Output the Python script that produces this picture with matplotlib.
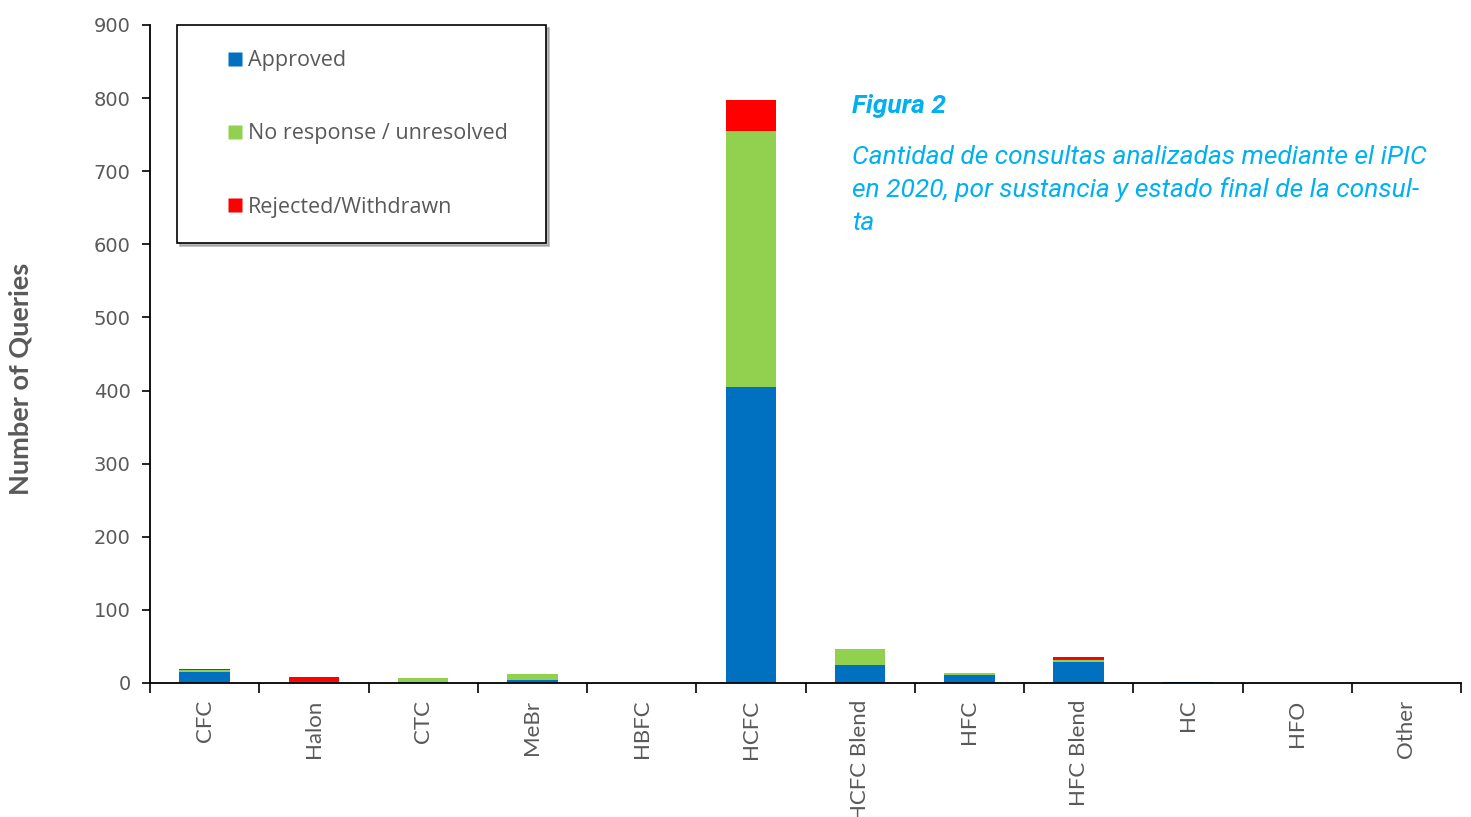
import matplotlib.pyplot as plt
from matplotlib.lines import Line2D
import numpy as np

# Queries per substance group, by final status
substances  = ["CFC", "Halon", "CTC", "MeBr", "HBFC", "HCFC", "HCFC Blend",
               "HFC", "HFC Blend", "HC", "HFO", "Other"]
approved    = [15, 3, 2, 4, 0, 405, 25, 11, 29, 1, 0, 0]
no_response = [3, 0, 5, 8, 0, 350, 22, 2, 2, 1, 0, 0]
rejected    = [1, 5, 0, 0, 0, 42, 0, 1, 5, 0, 0, 0]
status_names  = ["Approved", "No response / unresolved", "Rejected/Withdrawn"]
status_colors = ["#0070C0", "#92D050", "#FF0000"]
y_ticks = list(range(0, 901, 100))

grey = "#595959"
fig = plt.figure(figsize=(14.71, 8.17), dpi=100)
ax = fig.add_axes([150 / 1471, 1 - 683 / 817, 1311 / 1471, 658 / 817])

x = np.arange(len(substances))
bottom = np.zeros(len(substances))
for vals, col in zip([approved, no_response, rejected], status_colors):
    ax.bar(x, vals, width=0.46, bottom=bottom, color=col, edgecolor="none", zorder=2)
    bottom += np.array(vals)

ax.set_xlim(-0.5, len(substances) - 0.5)
ax.set_ylim(0, 900)
ax.set_yticks(y_ticks)
ax.tick_params(axis="y", labelsize=14, labelcolor=grey, length=6, width=1.2, pad=8)

# category labels at bar centres, tick marks on the boundaries
ax.set_xticks(x)
ax.set_xticklabels(substances, rotation=90, fontsize=16, color=grey, family="Lato")
ax.tick_params(axis="x", which="major", length=0, pad=12)
ax.set_xticks(np.arange(-0.5, len(substances)), minor=True)
ax.tick_params(axis="x", which="minor", length=7, width=1.2)

for side in ["top", "right"]:
    ax.spines[side].set_visible(False)
for side in ["left", "bottom"]:
    ax.spines[side].set_linewidth(1.3)

ax.set_ylabel("Number of Queries", fontsize=19.5, fontweight="bold", color=grey,
              family="Lato")
ax.yaxis.set_label_coords(-117 / 1311, 0.462)

handles = [Line2D([], [], linestyle="none", marker="s", markersize=10,
                  markerfacecolor=c, markeredgecolor="none") for c in status_colors]
leg = ax.legend(handles, status_names, loc="upper left",
                bbox_to_anchor=(27 / 1311, 0, 369 / 1311, 1.0), mode="expand",
                prop={"family": "Open Sans", "size": 15.5},
                handlelength=3.05, handletextpad=-0.95, labelspacing=2.42,
                borderpad=1.18, borderaxespad=0, fancybox=False,
                shadow={"color": "0.55", "alpha": 0.6}, framealpha=1)
leg.get_frame().set_edgecolor("black")
leg.get_frame().set_linewidth(1.2)
for t in leg.get_texts():
    t.set_color(grey)

blue_caption = "#00B0F0"
fig.text(852 / 1471, 1 - 106 / 817, "Figura 2", fontsize=19, fontweight="bold",
         style="italic", family="Roboto", color=blue_caption, va="center")
fig.text(852 / 1471, 1 - 145 / 817,
         "Cantidad de consultas analizadas mediante el iPIC\n"
         "en 2020, por sustancia y estado final de la consul-\n"
         "ta",
         fontsize=19, style="italic", family="Roboto", color=blue_caption,
         va="top", linespacing=1.43)

fig.savefig("out.png", dpi=100)
